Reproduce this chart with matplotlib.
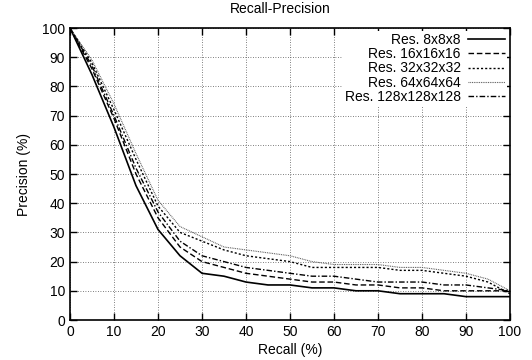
import numpy as np
import matplotlib
matplotlib.use("Agg")
import matplotlib.pyplot as plt

plt.rcParams['font.family'] = ['Liberation Sans', 'DejaVu Sans']

recall = [0, 5, 10, 15, 20, 25, 30, 35, 40, 45, 50, 55, 60, 65, 70, 75, 80, 85, 90, 95, 100]
res8 = [100, 84, 66, 46, 31, 22, 16, 15, 13, 12, 12, 11, 11, 10, 10, 9, 9, 9, 8, 8, 8]
res16 = [100, 86, 69, 50, 35, 25, 20, 18, 16, 15, 14, 13, 13, 12, 12, 11, 11, 10, 10, 10, 10]
res32 = [100, 88, 72, 55, 39, 30, 27, 24, 22, 21, 20, 18, 18, 18, 18, 17, 17, 16, 15, 13, 9]
res64 = [100, 89, 74, 57, 41, 32, 28.5, 25, 24, 23, 22, 20, 19, 19, 19, 18, 18, 17, 16, 14, 10]
res128 = [100, 87, 70, 52, 37, 27, 22, 20, 18, 17, 16, 15, 15, 14, 13, 13, 13, 12, 12, 11, 10]
labels = ["Res. 8x8x8", "Res. 16x16x16", "Res. 32x32x32", "Res. 64x64x64", "Res. 128x128x128"]

fig = plt.figure(figsize=(5.32, 3.6), dpi=100)
ax = fig.add_axes([70/532, 40/360, 440/532, 292/360])

ax.plot(recall, res8, color='black', lw=1.2, ls='-', label=labels[0])
ax.plot(recall, res16, color='black', lw=1.0, ls=(0, (4, 2)), label=labels[1])
ax.plot(recall, res32, color='black', lw=1.0, ls=(0, (1.5, 1.5)), label=labels[2])
ax.plot(recall, res64, color='#555555', lw=0.8, ls=(0, (0.8, 0.8)), label=labels[3])
ax.plot(recall, res128, color='black', lw=1.0, ls=(0, (4, 1.5, 1, 1.5)), label=labels[4])

ax.set_xlim(0, 100)
ax.set_ylim(0, 100)
ax.set_xticks(np.arange(0, 101, 10))
ax.set_yticks(np.arange(0, 101, 10))
ax.tick_params(direction='in', top=True, right=True, length=5, width=1, labelsize=10)
ax.grid(True, color='#555555', ls=(0, (1, 2)), lw=0.6)
for sp_ in ax.spines.values():
    sp_.set_linewidth(1.2)

ax.set_xlabel("Recall (%)", fontsize=10, labelpad=3)
ax.set_ylabel("Precision (%)", fontsize=10, labelpad=8)
fig.text(280/532, 1 - 9/360, "Recall-Precision", ha='center', va='center', fontsize=10)

leg = ax.legend(loc='upper right', markerfirst=False, frameon=True, fancybox=False,
                edgecolor='none', facecolor='white', framealpha=1.0, fontsize=10,
                handlelength=2.7, handletextpad=0.5, labelspacing=0.02,
                borderaxespad=0.2, borderpad=0.15)
for vp in leg._legend_handle_box.get_children():
    vp.align = 'right'

fig.savefig("out.png", dpi=100)
